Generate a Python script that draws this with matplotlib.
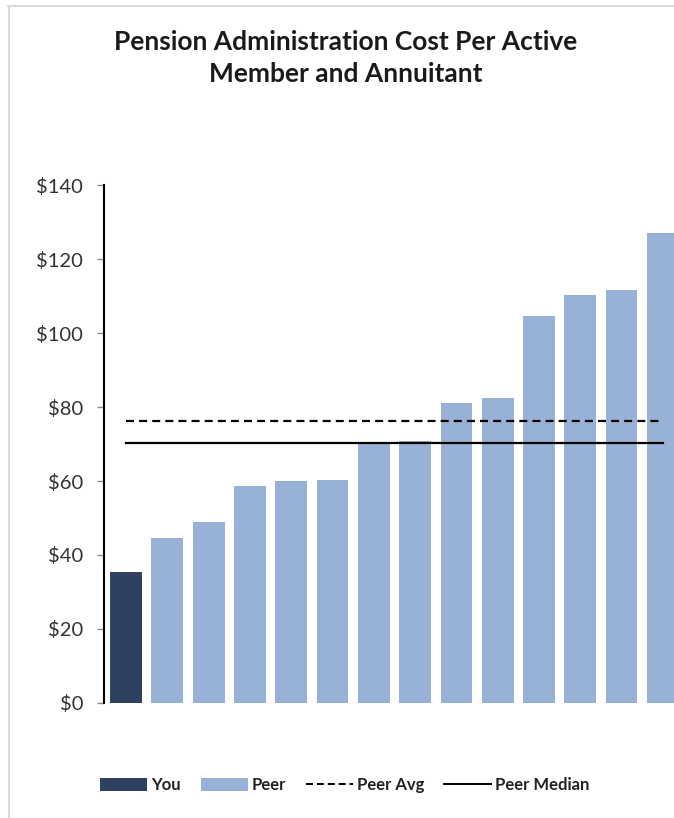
import numpy as np
import matplotlib
matplotlib.use("Agg")
import matplotlib.pyplot as plt
from matplotlib.lines import Line2D
from matplotlib.patches import Patch

# Data
you_value = [35.5]
peer_values = [44.7, 48.9, 58.7, 60.0, 60.4, 70.1, 70.8, 81.0, 82.4, 104.7, 110.4, 111.5, 127.1]
peer_avg = 76.2
peer_median = 70.4
y_ticks = [0, 20, 40, 60, 80, 100, 120, 140]
y_tick_labels = ["$0", "$20", "$40", "$60", "$80", "$100", "$120", "$140"]
title = "Pension Administration Cost Per Active\nMember and Annuitant"

you_color = "#2E4161"
peer_color = "#98B1D6"
font = "Lato"

plt.rcParams["font.family"] = [font, "DejaVu Sans"]

fig = plt.figure(figsize=(6.74, 8.18), dpi=100)
W, H = 674, 818
ax = fig.add_axes([104 / W, 1 - 703 / H, 1 - 104 / W, (703 - 185) / H])

x_you = np.arange(len(you_value))
x_peer = np.arange(len(peer_values)) + len(you_value)
ax.bar(x_you, you_value, width=0.77, color=you_color, label="You")
ax.bar(x_peer, peer_values, width=0.77, color=peer_color, label="Peer")

n = len(you_value) + len(peer_values)
ax.plot([0, n - 1], [peer_avg, peer_avg], color="black", lw=1.6,
        linestyle=(0, (3.6, 2.3)), label="Peer Avg")
ax.plot([0, n - 1], [peer_median, peer_median], color="black", lw=1.6,
        label="Peer Median")

ax.set_xlim(-0.535, 13.27)
ax.set_ylim(0, 140)
ax.set_yticks(y_ticks)
ax.set_yticklabels(y_tick_labels, fontsize=14.5, color="#333333")
ax.tick_params(axis="y", length=5, width=1, color="#8c8c8c", pad=10)
ax.set_xticks([])
for s in ["top", "right", "bottom"]:
    ax.spines[s].set_visible(False)
ax.spines["left"].set_linewidth(1.5)
ax.spines["left"].set_color("black")

# Title
fig.text(346 / W, 1 - 58.5 / H, title, ha="center", va="center",
         fontsize=19, fontweight="bold", color="#1a1a1a", linespacing=1.4)

# Legend
handles = [
    Patch(facecolor=you_color, label="You"),
    Patch(facecolor=peer_color, label="Peer"),
    Line2D([], [], color="black", lw=1.4, linestyle=(0, (3.6, 2.0)), label="Peer Avg"),
    Line2D([], [], color="black", lw=1.4, label="Peer Median"),
]
fig.legend(handles=handles, loc="center", bbox_to_anchor=(345 / W, 1 - 785 / H),
           ncol=4, frameon=False, handlelength=2.8, handleheight=0.8,
           handletextpad=0.25, columnspacing=1.2,
           prop={"family": font, "weight": "bold", "size": 12})
for t in fig.legends[0].get_texts():
    t.set_color("#222222")

# Light frame around the chart
fig.add_artist(Line2D([8 / W, 1], [1 - 6 / H, 1 - 6 / H], color="#d9d9d9", lw=1.5))
fig.add_artist(Line2D([9 / W, 9 / W], [0, 1 - 6 / H], color="#d9d9d9", lw=1.5))

fig.savefig("out.png", dpi=100)
